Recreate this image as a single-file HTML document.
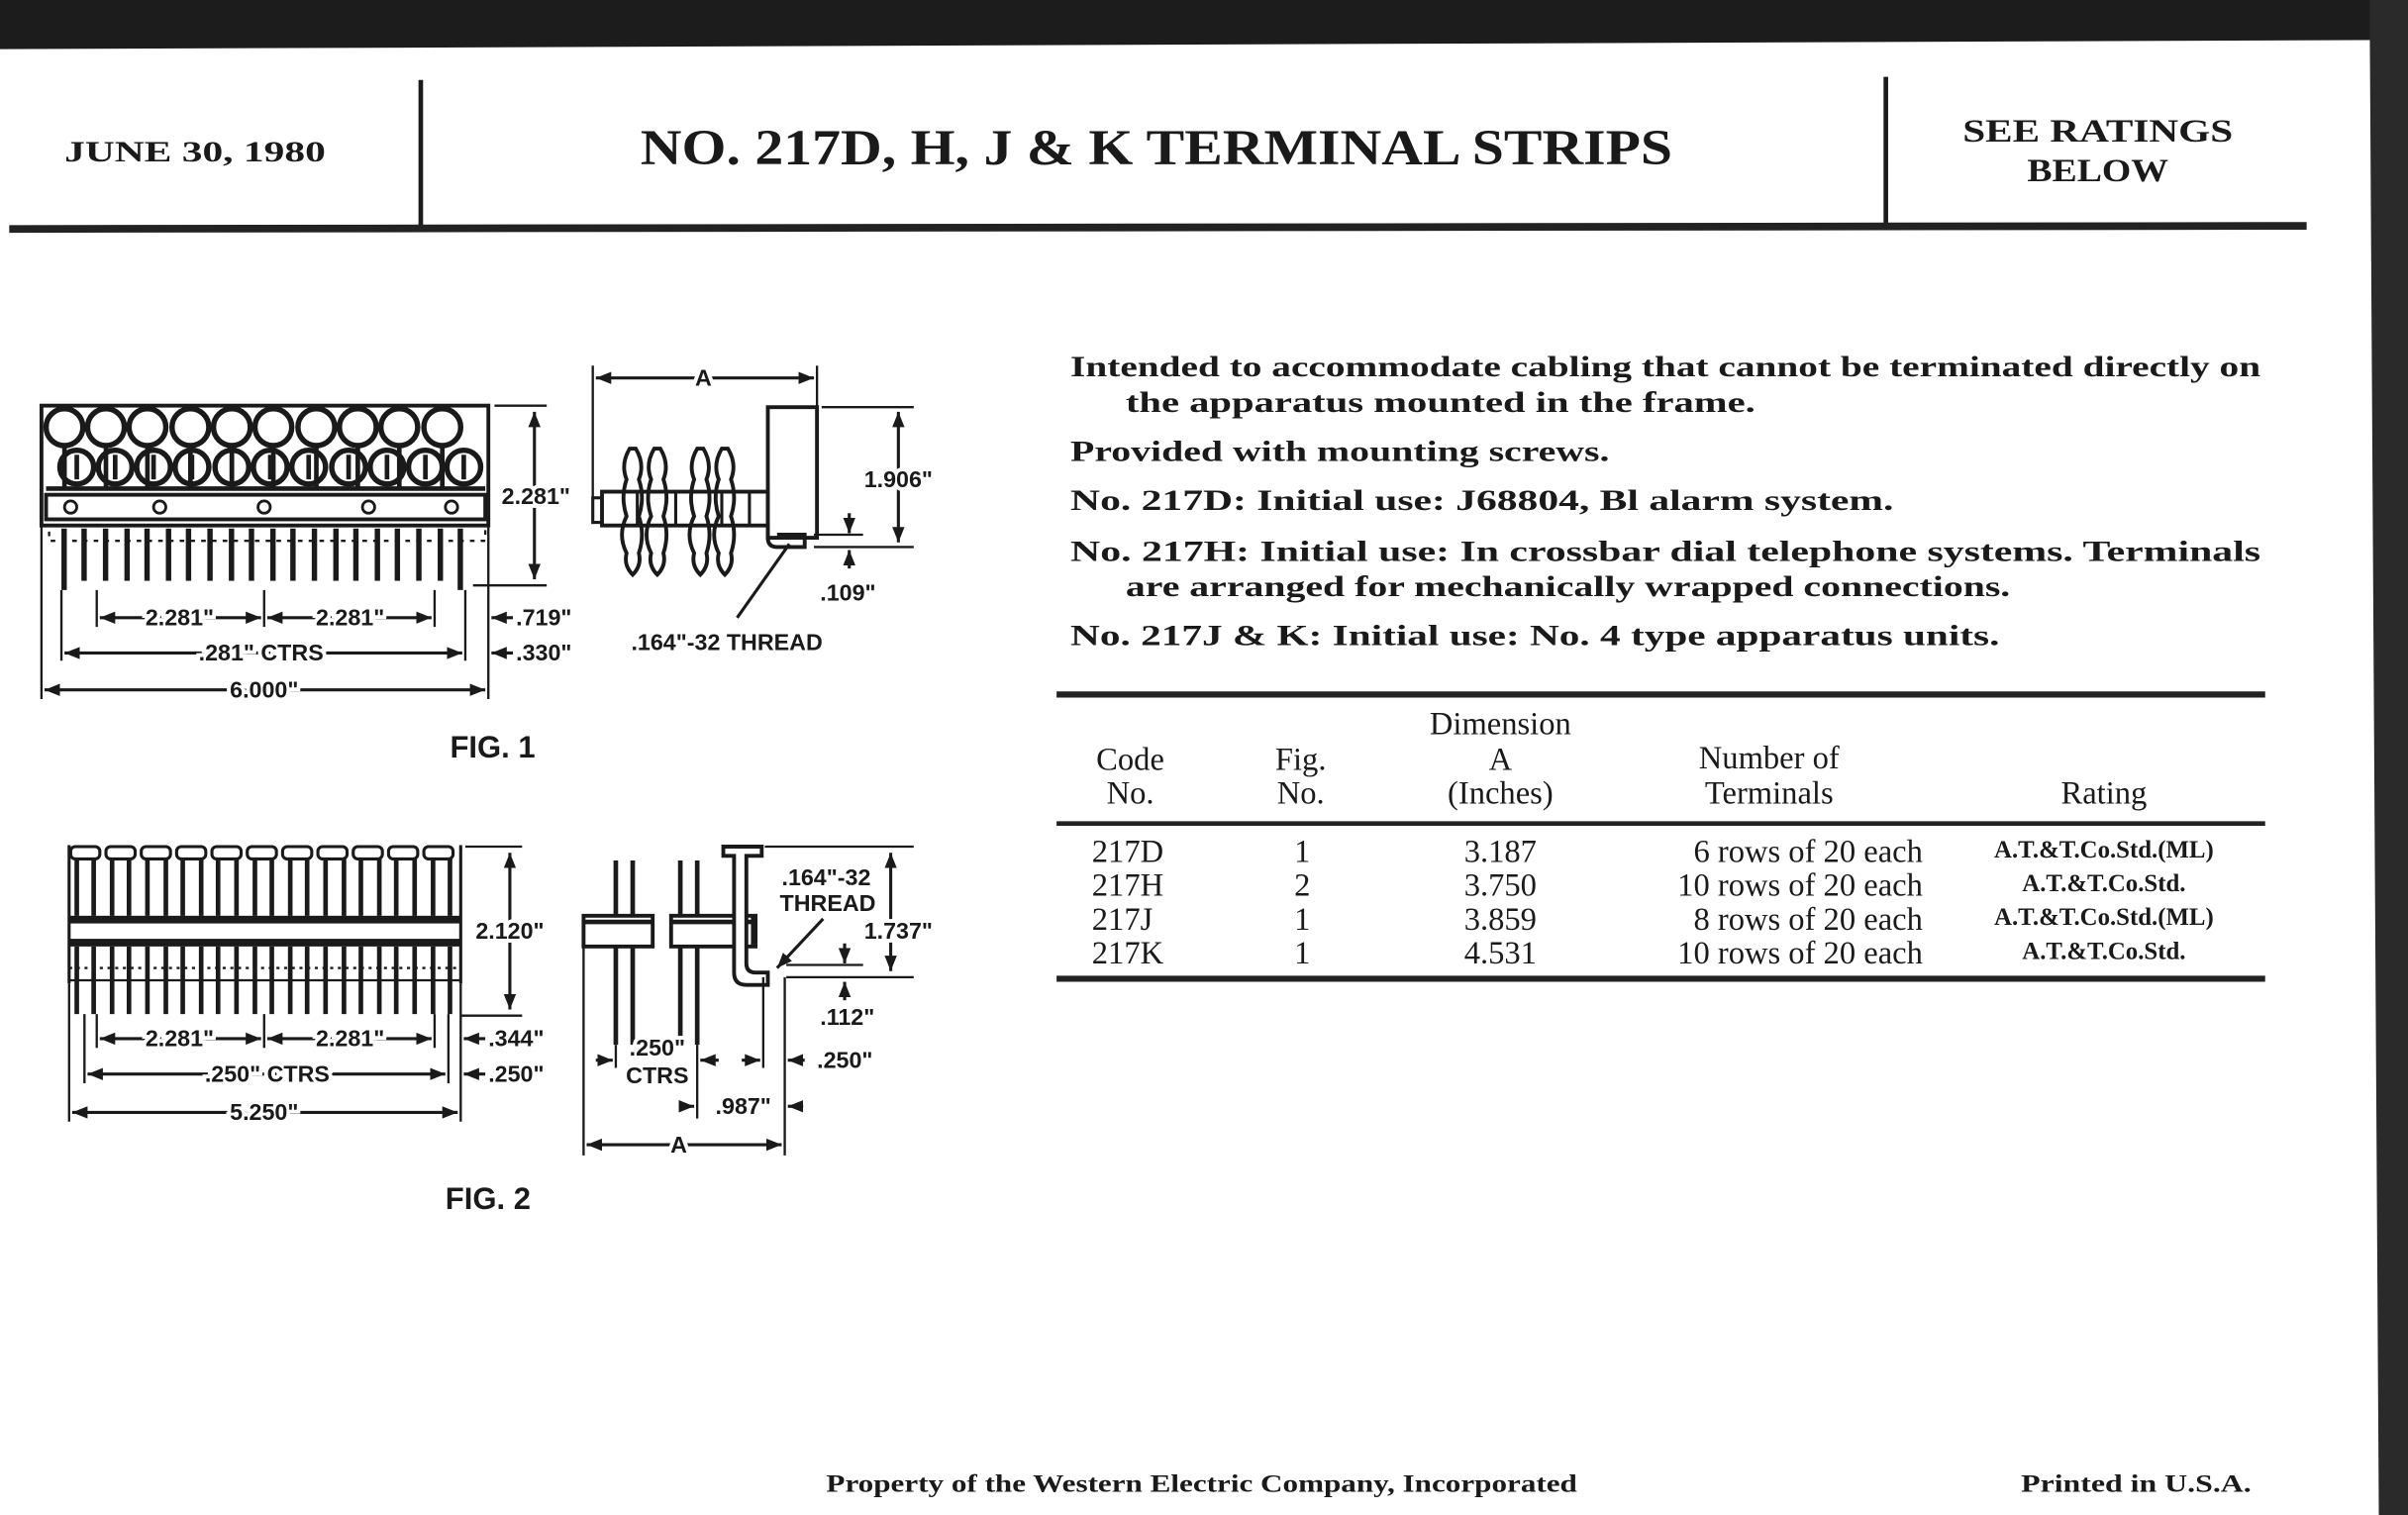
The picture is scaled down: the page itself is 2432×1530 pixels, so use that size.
<!DOCTYPE html>
<html><head><meta charset="utf-8"><style>
html,body{margin:0;padding:0;background:#fff;}
svg{display:block;}
.s{font-family:"Liberation Serif",serif;fill:#1a1a1a;}
.b{font-weight:bold;}
.d{font-family:"Liberation Sans",sans-serif;fill:#1a1a1a;font-size:15px;font-weight:bold;stroke:#fff;stroke-width:5px;paint-order:stroke;}
</style></head><body>
<svg width="2432" height="1530" viewBox="0 0 1568 986" preserveAspectRatio="none" xmlns="http://www.w3.org/2000/svg">
<defs>
<marker id="a" viewBox="0 0 10 10" refX="10" refY="5" markerWidth="5" markerHeight="5" orient="auto-start-reverse"><path d="M0,1 L10,5 L0,9 z" fill="#1a1a1a"/></marker>
</defs>
<rect width="1568" height="986" fill="#fff"/>
<polygon points="0,0 1568,0 1568,26 0,32" fill="#1c1c1c"/>
<polygon points="1543,0 1568,0 1568,986 1549,986" fill="#2a2a2a"/>

<text class="s b" x="42" y="105" font-size="19" textLength="170" lengthAdjust="spacingAndGlyphs">JUNE 30, 1980</text>
<line x1="274" y1="52" x2="274" y2="149" stroke="#1a1a1a" stroke-width="3"/>
<line x1="1228" y1="50" x2="1228" y2="147" stroke="#1a1a1a" stroke-width="3"/>
<text class="s b" x="417" y="107" font-size="33" textLength="672" lengthAdjust="spacingAndGlyphs">NO. 217D, H, J &amp; K TERMINAL STRIPS</text>
<text class="s b" x="1278" y="92" font-size="21" textLength="176" lengthAdjust="spacingAndGlyphs">SEE RATINGS</text>
<text class="s b" x="1320" y="118" font-size="21" textLength="92" lengthAdjust="spacingAndGlyphs">BELOW</text>
<line x1="6" y1="149" x2="1502" y2="147" stroke="#222" stroke-width="5"/>

<g class="s b" font-size="19">
<text x="697" y="245" textLength="775" lengthAdjust="spacingAndGlyphs">Intended to accommodate cabling that cannot be terminated directly on</text>
<text x="733" y="268" textLength="410" lengthAdjust="spacingAndGlyphs">the apparatus mounted in the frame.</text>
<text x="697" y="300" textLength="351" lengthAdjust="spacingAndGlyphs">Provided with mounting screws.</text>
<text x="697" y="332" textLength="536" lengthAdjust="spacingAndGlyphs">No. 217D: Initial use: J68804, Bl alarm system.</text>
<text x="697" y="365" textLength="775" lengthAdjust="spacingAndGlyphs">No. 217H: Initial use: In crossbar dial telephone systems. Terminals</text>
<text x="733" y="388" textLength="576" lengthAdjust="spacingAndGlyphs">are arranged for mechanically wrapped connections.</text>
<text x="697" y="420" textLength="605" lengthAdjust="spacingAndGlyphs">No. 217J &amp; K: Initial use: No. 4 type apparatus units.</text>
</g>

<line x1="688" y1="452" x2="1475" y2="452" stroke="#222" stroke-width="4"/>
<line x1="688" y1="536" x2="1475" y2="536" stroke="#222" stroke-width="3"/>
<line x1="688" y1="637" x2="1475" y2="637" stroke="#222" stroke-width="4"/>
<g class="s" font-size="21" text-anchor="middle">
<text x="977" y="478">Dimension</text>
<text x="736" y="501">Code</text><text x="736" y="523">No.</text>
<text x="847" y="501">Fig.</text><text x="847" y="523">No.</text>
<text x="977" y="501">A</text><text x="977" y="523">(Inches)</text>
<text x="1152" y="500">Number of</text><text x="1152" y="523">Terminals</text>
<text x="1370" y="523">Rating</text>
</g>
<g class="s" font-size="21">
<text x="711" y="561">217D</text><text x="711" y="583">217H</text><text x="711" y="605">217J</text><text x="711" y="627">217K</text>
<g text-anchor="middle"><text x="848" y="561">1</text><text x="848" y="583">2</text><text x="848" y="605">1</text><text x="848" y="627">1</text>
<text x="977" y="561">3.187</text><text x="977" y="583">3.750</text><text x="977" y="605">3.859</text><text x="977" y="627">4.531</text></g>
<g text-anchor="end"><text x="1252" y="561">6 rows of 20 each</text><text x="1252" y="583">10 rows of 20 each</text><text x="1252" y="605">8 rows of 20 each</text><text x="1252" y="627">10 rows of 20 each</text></g>
</g>
<g class="s b" font-size="16" text-anchor="middle">
<text x="1370" y="558">A.T.&amp;T.Co.Std.(ML)</text><text x="1370" y="580">A.T.&amp;T.Co.Std.</text>
<text x="1370" y="602">A.T.&amp;T.Co.Std.(ML)</text><text x="1370" y="624">A.T.&amp;T.Co.Std.</text>
</g>

<text class="s b" x="538" y="971" font-size="16" textLength="489" lengthAdjust="spacingAndGlyphs">Property of the Western Electric Company, Incorporated</text>
<text class="s b" x="1316" y="971" font-size="16" textLength="150" lengthAdjust="spacingAndGlyphs">Printed in U.S.A.</text>

<g stroke="#1a1a1a" fill="none">
<rect x="27" y="264" width="291" height="78" stroke-width="2.5"/>
<g stroke-width="3.5">
<circle cx="42" cy="278" r="12"/><circle cx="69" cy="278" r="12"/><circle cx="96" cy="278" r="12"/><circle cx="124" cy="278" r="12"/><circle cx="151" cy="278" r="12"/><circle cx="178" cy="278" r="12"/><circle cx="206" cy="278" r="12"/><circle cx="233" cy="278" r="12"/><circle cx="260" cy="278" r="12"/><circle cx="288" cy="278" r="12"/>
<circle cx="50" cy="304" r="11"/><circle cx="75" cy="304" r="11"/><circle cx="100" cy="304" r="11"/><circle cx="125" cy="304" r="11"/><circle cx="151" cy="304" r="11"/><circle cx="176" cy="304" r="11"/><circle cx="201" cy="304" r="11"/><circle cx="227" cy="304" r="11"/><circle cx="252" cy="304" r="11"/><circle cx="277" cy="304" r="11"/><circle cx="302" cy="304" r="11"/>
</g>
<g stroke-width="3">
<line x1="42" y1="290" x2="42" y2="318"/><line x1="69" y1="290" x2="69" y2="318"/><line x1="96" y1="290" x2="96" y2="318"/><line x1="124" y1="290" x2="124" y2="318"/><line x1="151" y1="290" x2="151" y2="318"/><line x1="178" y1="290" x2="178" y2="318"/><line x1="206" y1="290" x2="206" y2="318"/><line x1="233" y1="290" x2="233" y2="318"/><line x1="260" y1="290" x2="260" y2="318"/><line x1="288" y1="290" x2="288" y2="318"/>
<line x1="50" y1="296" x2="50" y2="312"/><line x1="75" y1="296" x2="75" y2="312"/><line x1="100" y1="296" x2="100" y2="312"/><line x1="125" y1="296" x2="125" y2="312"/><line x1="151" y1="296" x2="151" y2="312"/><line x1="176" y1="296" x2="176" y2="312"/><line x1="201" y1="296" x2="201" y2="312"/><line x1="227" y1="296" x2="227" y2="312"/><line x1="252" y1="296" x2="252" y2="312"/><line x1="277" y1="296" x2="277" y2="312"/><line x1="302" y1="296" x2="302" y2="312"/>
</g>
<line x1="30" y1="318" x2="316" y2="318" stroke-width="3"/>
<rect x="30" y="322" width="286" height="16" stroke-width="2.5"/>
<g stroke-width="1.8"><circle cx="46" cy="330" r="4"/><circle cx="104" cy="330" r="4"/><circle cx="172" cy="330" r="4"/><circle cx="240" cy="330" r="4"/><circle cx="294" cy="330" r="4"/></g>
<rect x="32" y="342" width="284" height="10" stroke-width="1.5" stroke-dasharray="3 4"/>
</g>
<g fill="#1a1a1a">
<rect x="40" y="344" width="3.5" height="40"/><rect x="53" y="344" width="3.5" height="34"/><rect x="67" y="344" width="3.5" height="34"/><rect x="81" y="344" width="3.5" height="34"/><rect x="94" y="344" width="3.5" height="34"/><rect x="108" y="344" width="3.5" height="34"/><rect x="121" y="344" width="3.5" height="34"/><rect x="135" y="344" width="3.5" height="34"/><rect x="149" y="344" width="3.5" height="34"/><rect x="162" y="344" width="3.5" height="34"/><rect x="176" y="344" width="3.5" height="34"/><rect x="189" y="344" width="3.5" height="34"/><rect x="203" y="344" width="3.5" height="34"/><rect x="217" y="344" width="3.5" height="34"/><rect x="230" y="344" width="3.5" height="34"/><rect x="244" y="344" width="3.5" height="34"/><rect x="257" y="344" width="3.5" height="34"/><rect x="271" y="344" width="3.5" height="34"/><rect x="285" y="344" width="3.5" height="34"/><rect x="298" y="344" width="3.5" height="40"/>
</g>
<g stroke="#1a1a1a" stroke-width="1.5" fill="none">
<line x1="322" y1="264" x2="356" y2="264"/><line x1="308" y1="381" x2="356" y2="381"/>
<line x1="348" y1="268" x2="348" y2="377" marker-start="url(#a)" marker-end="url(#a)" stroke-width="2"/>
<line x1="40" y1="384" x2="40" y2="430"/><line x1="63" y1="384" x2="63" y2="408"/><line x1="172" y1="384" x2="172" y2="408"/><line x1="283" y1="384" x2="283" y2="408"/><line x1="303" y1="384" x2="303" y2="430"/><line x1="27" y1="342" x2="27" y2="455"/><line x1="318" y1="342" x2="318" y2="455"/>
<line x1="65" y1="402" x2="170" y2="402" marker-start="url(#a)" marker-end="url(#a)" stroke-width="2"/>
<line x1="174" y1="402" x2="281" y2="402" marker-start="url(#a)" marker-end="url(#a)" stroke-width="2"/>
<line x1="42" y1="425" x2="301" y2="425" marker-start="url(#a)" marker-end="url(#a)" stroke-width="2"/>
<line x1="29" y1="449" x2="316" y2="449" marker-start="url(#a)" marker-end="url(#a)" stroke-width="2"/>
<line x1="334" y1="402" x2="320" y2="402" marker-end="url(#a)" stroke-width="2"/>
<line x1="334" y1="425" x2="320" y2="425" marker-end="url(#a)" stroke-width="2"/>
</g>
<g class="d">
<text x="349" y="328" text-anchor="middle">2.281"</text>
<text x="117" y="407" text-anchor="middle">2.281"</text><text x="228" y="407" text-anchor="middle">2.281"</text>
<text x="170" y="430" text-anchor="middle">.281" CTRS</text>
<text x="172" y="454" text-anchor="middle">6.000"</text>
<text x="336" y="407">.719"</text><text x="336" y="430">.330"</text>
</g>
<text x="293" y="493" font-family="Liberation Sans,sans-serif" font-size="20" font-weight="bold" fill="#1a1a1a">FIG. 1</text>

<g stroke="#1a1a1a" fill="none" stroke-width="2">
<line x1="386" y1="238" x2="386" y2="330" stroke-width="1.5"/><line x1="532" y1="238" x2="532" y2="265" stroke-width="1.5"/>
<line x1="388" y1="246" x2="530" y2="246" marker-start="url(#a)" marker-end="url(#a)"/>
<rect x="500" y="265" width="32" height="85" stroke-width="2.5"/>
<rect x="386" y="324" width="6" height="16" stroke-width="2"/>
<rect x="392" y="320" width="108" height="22" stroke-width="2.5"/>
<line x1="415" y1="320" x2="415" y2="342"/><line x1="440" y1="320" x2="440" y2="342"/><line x1="470" y1="320" x2="470" y2="342"/><line x1="488" y1="320" x2="488" y2="342"/>
<path d="M410,292 q-6,10 -2,20 q-4,12 0,24 q-6,12 0,24 q-2,8 4,14 q6,-6 4,-14 q4,-12 0,-24 q4,-12 0,-24 q4,-10 -2,-20 z" stroke-width="2.5"/>
<path d="M426,292 q-6,10 -2,20 q-4,12 0,24 q-6,12 0,24 q-2,8 4,14 q6,-6 4,-14 q4,-12 0,-24 q4,-12 0,-24 q4,-10 -2,-20 z" stroke-width="2.5"/>
<path d="M454,292 q-6,10 -2,20 q-4,12 0,24 q-6,12 0,24 q-2,8 4,14 q6,-6 4,-14 q4,-12 0,-24 q4,-12 0,-24 q4,-10 -2,-20 z" stroke-width="2.5"/>
<path d="M470,292 q-6,10 -2,20 q-4,12 0,24 q-6,12 0,24 q-2,8 4,14 q6,-6 4,-14 q4,-12 0,-24 q4,-12 0,-24 q4,-10 -2,-20 z" stroke-width="2.5"/>
<path d="M500,342 v8 q0,6 6,6 h18 v-8 h-18" stroke-width="2.5"/>
<line x1="535" y1="265" x2="595" y2="265" stroke-width="1.5"/><line x1="530" y1="356" x2="595" y2="356" stroke-width="1.5"/><line x1="530" y1="348" x2="562" y2="348" stroke-width="1.5"/>
<line x1="585" y1="268" x2="585" y2="353" marker-start="url(#a)" marker-end="url(#a)"/>
<line x1="553" y1="334" x2="553" y2="347" marker-end="url(#a)"/>
<line x1="553" y1="370" x2="553" y2="358" marker-end="url(#a)"/>
<line x1="480" y1="402" x2="514" y2="354" stroke-width="2"/>
</g>
<g class="d">
<text x="458" y="251" text-anchor="middle">A</text>
<text x="585" y="317" text-anchor="middle">1.906"</text>
<text x="534" y="391">.109"</text>
<text x="411" y="423">.164"-32 THREAD</text>
</g>

<g fill="#1a1a1a">
<rect x="45" y="596" width="255" height="5"/><rect x="45" y="611" width="255" height="5"/>
</g>
<g stroke="#1a1a1a" fill="none" stroke-width="2">
<rect x="46" y="551" width="19" height="8" rx="3"/><rect x="69" y="551" width="19" height="8" rx="3"/><rect x="92" y="551" width="19" height="8" rx="3"/><rect x="115" y="551" width="19" height="8" rx="3"/><rect x="138" y="551" width="19" height="8" rx="3"/><rect x="161" y="551" width="19" height="8" rx="3"/><rect x="184" y="551" width="19" height="8" rx="3"/><rect x="207" y="551" width="19" height="8" rx="3"/><rect x="230" y="551" width="19" height="8" rx="3"/><rect x="253" y="551" width="19" height="8" rx="3"/><rect x="276" y="551" width="19" height="8" rx="3"/>
<line x1="45" y1="630" x2="300" y2="630" stroke-dasharray="2 3" stroke-width="1.5"/>
<line x1="45" y1="638" x2="300" y2="638" stroke-width="1.5"/>
<line x1="45" y1="550" x2="45" y2="640"/><line x1="300" y1="550" x2="300" y2="640"/>
</g>
<g stroke="#1a1a1a" stroke-width="3">
<path d="M50,559v37M61,559v37M73,559v37M84,559v37M96,559v37M108,559v37M119,559v37M131,559v37M142,559v37M154,559v37M166,559v37M177,559v37M189,559v37M200,559v37M212,559v37M224,559v37M235,559v37M247,559v37M258,559v37M270,559v37M282,559v37M293,559v37"/>
<path d="M50,616v44M61,616v44M73,616v44M84,616v44M96,616v44M108,616v44M119,616v44M131,616v44M142,616v44M154,616v44M166,616v44M177,616v44M189,616v44M200,616v44M212,616v44M224,616v44M235,616v44M247,616v44M258,616v44M270,616v44M282,616v44M293,616v44"/>
</g>
<g stroke="#1a1a1a" fill="none" stroke-width="1.5">
<line x1="303" y1="551" x2="340" y2="551"/><line x1="300" y1="661" x2="340" y2="661"/>
<line x1="332" y1="555" x2="332" y2="657" marker-start="url(#a)" marker-end="url(#a)" stroke-width="2"/>
<line x1="45" y1="640" x2="45" y2="730"/><line x1="55" y1="660" x2="55" y2="705"/><line x1="63" y1="660" x2="63" y2="682"/><line x1="172" y1="660" x2="172" y2="682"/><line x1="283" y1="660" x2="283" y2="682"/><line x1="292" y1="660" x2="292" y2="705"/><line x1="300" y1="640" x2="300" y2="730"/>
<line x1="65" y1="676" x2="170" y2="676" marker-start="url(#a)" marker-end="url(#a)" stroke-width="2"/>
<line x1="174" y1="676" x2="281" y2="676" marker-start="url(#a)" marker-end="url(#a)" stroke-width="2"/>
<line x1="57" y1="699" x2="290" y2="699" marker-start="url(#a)" marker-end="url(#a)" stroke-width="2"/>
<line x1="47" y1="724" x2="298" y2="724" marker-start="url(#a)" marker-end="url(#a)" stroke-width="2"/>
<line x1="316" y1="676" x2="302" y2="676" marker-end="url(#a)" stroke-width="2"/>
<line x1="316" y1="699" x2="302" y2="699" marker-end="url(#a)" stroke-width="2"/>
</g>
<g class="d">
<text x="332" y="611" text-anchor="middle">2.120"</text>
<text x="117" y="681" text-anchor="middle">2.281"</text><text x="228" y="681" text-anchor="middle">2.281"</text>
<text x="174" y="704" text-anchor="middle">.250" CTRS</text>
<text x="172" y="729" text-anchor="middle">5.250"</text>
<text x="318" y="681">.344"</text><text x="318" y="704">.250"</text>
</g>
<text x="290" y="787" font-family="Liberation Sans,sans-serif" font-size="20" font-weight="bold" fill="#1a1a1a">FIG. 2</text>

<g stroke="#1a1a1a" fill="none">
<g stroke-width="3"><path d="M401,560v120M412,560v120M443,560v120M454,560v120"/></g>
<rect x="380" y="596" width="45" height="20" fill="#fff" stroke-width="2.5"/>
<rect x="437" y="596" width="55" height="20" fill="#fff" stroke-width="2.5"/>
<line x1="380" y1="600" x2="425" y2="600" stroke-width="3"/><line x1="437" y1="600" x2="492" y2="600" stroke-width="3"/>
<path d="M471,551 h25 v6 h-10 v70 q0,6 6,6 h8 v8 h-14 q-8,0 -8,-8 v-76 h-7 z" stroke-width="2.5" fill="#fff"/>
<path d="M490,596 v20" stroke-width="2"/>
<line x1="380" y1="616" x2="380" y2="752" stroke-width="1.5"/><line x1="511" y1="636" x2="511" y2="752" stroke-width="1.5"/>
<line x1="401" y1="680" x2="401" y2="695" stroke-width="1.5"/><line x1="454" y1="680" x2="454" y2="728" stroke-width="1.5"/><line x1="497" y1="636" x2="497" y2="695" stroke-width="1.5"/>
<line x1="382" y1="745" x2="509" y2="745" marker-start="url(#a)" marker-end="url(#a)" stroke-width="2"/>
<line x1="388" y1="690" x2="399" y2="690" marker-end="url(#a)" stroke-width="2"/>
<line x1="468" y1="690" x2="456" y2="690" marker-end="url(#a)" stroke-width="2"/>
<line x1="483" y1="690" x2="495" y2="690" marker-end="url(#a)" stroke-width="2"/>
<line x1="524" y1="690" x2="513" y2="690" marker-end="url(#a)" stroke-width="2"/>
<line x1="442" y1="720" x2="452" y2="720" marker-end="url(#a)" stroke-width="2"/>
<line x1="523" y1="720" x2="513" y2="720" marker-end="url(#a)" stroke-width="2"/>
<line x1="498" y1="551" x2="595" y2="551" stroke-width="1.5"/><line x1="512" y1="636" x2="595" y2="636" stroke-width="1.5"/><line x1="512" y1="628" x2="562" y2="628" stroke-width="1.5"/>
<line x1="580" y1="555" x2="580" y2="632" marker-start="url(#a)" marker-end="url(#a)" stroke-width="2"/>
<line x1="550" y1="614" x2="550" y2="627" marker-end="url(#a)" stroke-width="2"/>
<line x1="550" y1="651" x2="550" y2="639" marker-end="url(#a)" stroke-width="2"/>
<line x1="536" y1="598" x2="506" y2="630" marker-end="url(#a)" stroke-width="2"/>
</g>
<g class="d">
<text x="538" y="576" text-anchor="middle">.164"-32</text>
<text x="539" y="593" text-anchor="middle">THREAD</text>
<text x="585" y="611" text-anchor="middle">1.737"</text>
<text x="534" y="667">.112"</text>
<text x="428" y="687" text-anchor="middle">.250"</text>
<text x="428" y="705" text-anchor="middle">CTRS</text>
<text x="532" y="695">.250"</text>
<text x="484" y="725" text-anchor="middle">.987"</text>
<text x="442" y="750" text-anchor="middle">A</text>
</g>
</svg>
</body></html>
